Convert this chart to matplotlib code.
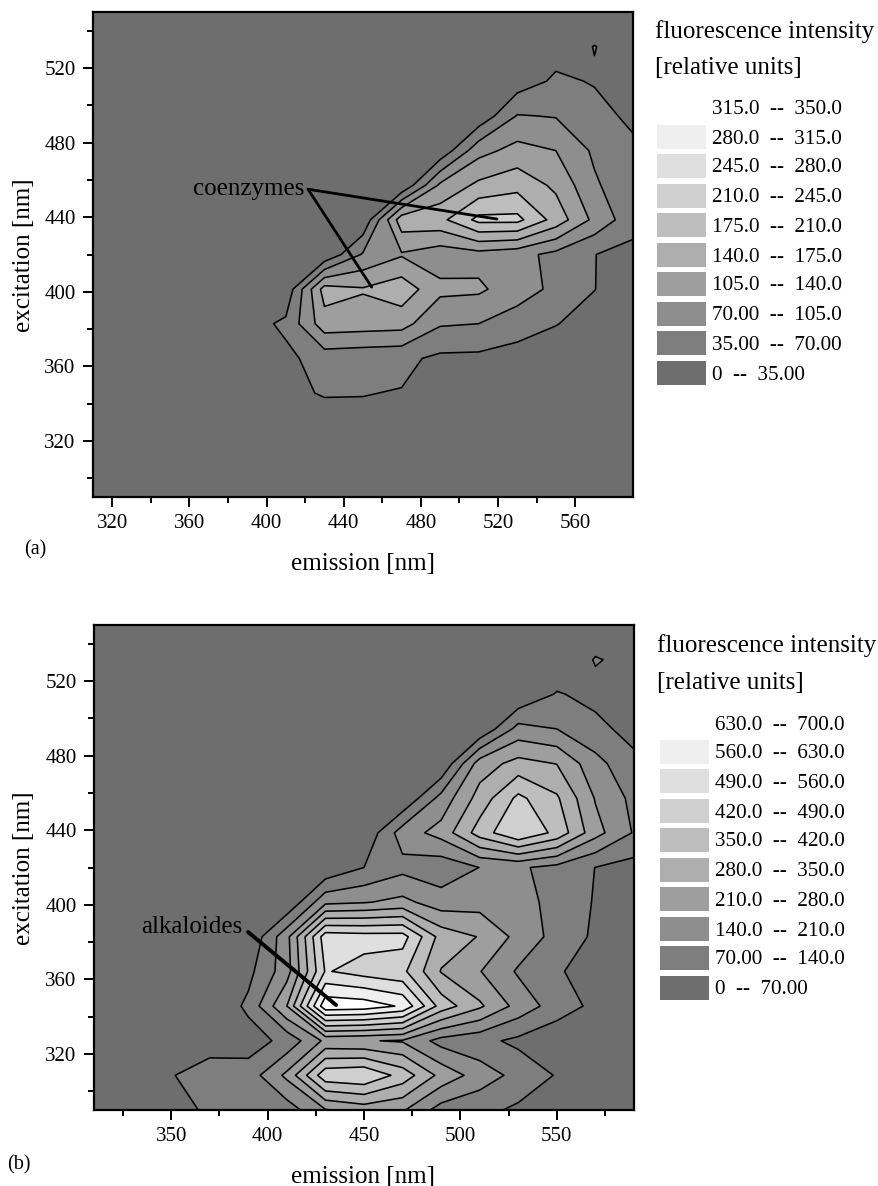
import matplotlib
matplotlib.use("Agg")
import numpy as np
import matplotlib.pyplot as plt
from matplotlib.patches import Rectangle

plt.rcParams['font.family'] = ['Liberation Serif', 'DejaVu Serif']

EMISSION = [310, 330, 350, 370, 390, 410, 430, 450, 470, 490, 510, 530, 550, 570, 590]
EXCITATION = [290, 308.6, 327.1, 345.7, 364.3, 382.9, 401.4, 420, 438.6, 457.1, 475.7, 494.3, 512.9, 531.4, 550]

INTENSITY_A = [
    [10, 10, 10, 10, 10, 10, 10, 10, 10, 10, 10, 10, 10, 10, 10],
    [10, 10, 10, 10, 10, 10, 10, 10, 10, 10, 10, 10, 10, 10, 10],
    [10, 10, 10, 10, 10, 22, 28, 26, 20, 14, 12, 12, 10, 10, 10],
    [10, 10, 10, 12, 14, 32, 36, 36, 33.5, 18, 15, 12, 12, 10, 10],
    [10, 10, 10, 12, 15, 27, 50, 46, 43, 28, 27, 19, 20, 15, 12],
    [10, 10, 10, 12, 20, 42, 125, 122, 119, 73.5, 70, 53, 36, 25, 15],
    [10, 10, 10, 8, 6, 8, 155, 143, 161, 114, 111, 86, 62, 35.5, 20],
    [10, 10, 10, 8, 6, 5, 5, 74, 101.5, 85, 92, 82, 60, 35.5, 25],
    [10, 10, 10, 8, 6, 5, 5, 5, 161, 165, 220, 220, 161, 96, 48],
    [10, 10, 10, 8, 6, 5, 5, 5, 2, 112, 148, 163, 133, 75, 45],
    [10, 10, 10, 8, 6, 5, 5, 5, 2, 8, 93, 117, 105, 64, 42],
    [10, 10, 10, 8, 6, 5, 5, 5, 5, 5, 9, 72, 68, 46, 28],
    [10, 10, 10, 10, 10, 10, 8, 8, 8, 8, 8, 16, 41, 32.7, 25],
    [10, 10, 10, 10, 10, 10, 10, 10, 10, 10, 10, 15, 20, 35.8, 22],
    [10, 10, 10, 10, 10, 10, 10, 10, 10, 10, 10, 12, 15, 15, 15],
]

INTENSITY_B = [
    [10, 10, 20, 91, 90, 104, 205, 240, 218, 110, 90, 57, 15, 10, 10],
    [10, 15, 64, 121, 102, 226, 469, 485, 392, 258, 177, 118, 65, 15, 10],
    [10, 10, 15, 20, 37, 91, 225, 215, 203, 114, 90, 54, 21, 15, 10],
    [10, 10, 10, 5, 85, 280, 680, 670, 620, 390, 292, 185, 105.6, 53, 20],
    [10, 10, 10, 15, 50, 180, 496, 460, 437, 276, 213, 131, 80, 30, 15],
    [10, 10, 10, 8, 5, 188, 530, 520, 519, 322, 276, 189, 115, 58, 20],
    [10, 10, 10, 8, 5, 5, 192, 205, 229, 173, 182, 160, 123, 64, 25],
    [10, 10, 10, 8, 5, 5, 10, 70, 118, 95, 141, 150, 118, 69, 44],
    [10, 10, 10, 8, 5, 5, 5, 10, 175, 236, 382, 488, 400, 235, 134],
    [10, 10, 10, 8, 5, 5, 5, 5, 4, 165, 308, 437, 360, 205, 121],
    [10, 10, 10, 8, 5, 5, 5, 5, 2, 2, 245, 304, 278, 163, 88],
    [10, 10, 10, 8, 5, 5, 5, 5, 5, 5, 5, 165, 140, 90, 45],
    [10, 10, 10, 8, 5, 5, 5, 5, 5, 5, 5, 3, 76, 49, 25],
    [10, 10, 10, 10, 10, 10, 10, 10, 10, 10, 10, 8, 5, 75, 50],
    [10, 10, 10, 10, 10, 10, 10, 10, 10, 10, 10, 10, 15, 20, 15],
]

LEVELS_A = [0, 35, 70, 105, 140, 175, 210, 245, 280, 315, 350]
LEVELS_B = [0, 70, 140, 210, 280, 350, 420, 490, 560, 630, 700]
GREYS = ['#6e6e6e', '#7e7e7e', '#8e8e8e', '#9e9e9e', '#aeaeae',
         '#bebebe', '#cfcfcf', '#dfdfdf', '#efefef', '#ffffff']
LEGEND_A = ['0  --  35.00', '35.00  --  70.00', '70.00  --  105.0', '105.0  --  140.0',
            '140.0  --  175.0', '175.0  --  210.0', '210.0  --  245.0', '245.0  --  280.0',
            '280.0  --  315.0', '315.0  --  350.0']
LEGEND_B = ['0  --  70.00', '70.00  --  140.0', '140.0  --  210.0', '210.0  --  280.0',
            '280.0  --  350.0', '350.0  --  420.0', '420.0  --  490.0', '490.0  --  560.0',
            '560.0  --  630.0', '630.0  --  700.0']

W, H = 879, 1186
fig = plt.figure(figsize=(W / 100, H / 100), dpi=100)
fig.patch.set_facecolor('white')


def fx(px):
    return px / W


def fy(py):
    return 1 - py / H


def panel(box, z, levels, xmajor, xminor, ymajor, yminor):
    left, top, right, bottom = box
    ax = fig.add_axes([fx(left), fy(bottom), (right - left) / W, (bottom - top) / H])
    ax.contourf(EMISSION, EXCITATION, np.array(z), levels=levels, colors=GREYS)
    ax.contour(EMISSION, EXCITATION, np.array(z), levels=levels[1:-1], colors='black', linewidths=1.15)
    ax.set_xlim(310, 590)
    ax.set_ylim(290, 550)
    ax.set_xticks(xmajor)
    ax.set_xticks(xminor, minor=True)
    ax.set_yticks(ymajor)
    ax.set_yticks(yminor, minor=True)
    ax.tick_params(which='major', length=7.5, width=1.4, labelsize=15, pad=5)
    ax.tick_params(which='minor', length=4, width=1.4)
    for s in ax.spines.values():
        s.set_linewidth(1.6)
    return ax


def side(title_x, title_ys, sw_x, centers, labels):
    fig.text(fx(title_x), fy(title_ys[0] + 2), 'fluorescence intensity', fontsize=18, va='center', ha='left')
    fig.text(fx(title_x), fy(title_ys[1] + 2), '[relative units]', fontsize=18, va='center', ha='left')
    for c, g, lab in zip(centers, GREYS, labels):
        fig.add_artist(Rectangle((fx(sw_x), fy(c + 12)), 49 / W, 24 / H, transform=fig.transFigure,
                                 facecolor=g, edgecolor='none'))
        fig.text(fx(sw_x + 55), fy(c + 2), lab, fontsize=15.2, va='center', ha='left')


ax_a = panel((93, 12, 633, 497), INTENSITY_A, LEVELS_A,
             [320, 360, 400, 440, 480, 520, 560], [340, 380, 420, 460, 500, 540],
             [320, 360, 400, 440, 480, 520], [300, 340, 380, 420, 460, 500, 540])
ax_b = panel((94, 625, 634, 1110), INTENSITY_B, LEVELS_B,
             [350, 400, 450, 500, 550], [325, 375, 425, 475, 525, 575],
             [320, 360, 400, 440, 480, 520], [300, 340, 380, 420, 460, 500, 540])

for start, end in [((421.5, 455), (519.5, 439)), ((421.5, 455), (454.5, 402.5))]:
    ax_a.annotate('', xy=end, xytext=start,
                  arrowprops=dict(arrowstyle='-', color='black', lw=2.0, shrinkA=0, shrinkB=0))
ax_a.text(419.5, 455, 'coenzymes', fontsize=18, ha='right', va='center')

ax_b.annotate('', xy=(435.5, 346.3), xytext=(389.9, 385.4),
              arrowprops=dict(arrowstyle='-', color='black', lw=2.8, shrinkA=0, shrinkB=0))
ax_b.text(387, 388, 'alkaloides', fontsize=18, ha='right', va='center')

side(655, (30, 66), 657, [373, 343, 314, 284, 255, 225, 196, 166, 137, 108], LEGEND_A)
side(657, (644, 681), 660, [988, 958, 929, 899, 870, 840, 811, 781, 752, 723], LEGEND_B)

fig.text(fx(363), fy(564), 'emission [nm]', fontsize=18, ha='center', va='center')
fig.text(fx(363), fy(1177), 'emission [nm]', fontsize=18, ha='center', va='center')
fig.text(fx(24), fy(255), 'excitation [nm]', fontsize=18, ha='center', va='center', rotation=90)
fig.text(fx(24), fy(868), 'excitation [nm]', fontsize=18, ha='center', va='center', rotation=90)
fig.text(fx(24), fy(550), '(a)', fontsize=14.5, ha='left', va='center')
fig.text(fx(7), fy(1165), '(b)', fontsize=14.5, ha='left', va='center')

fig.savefig('out.png', dpi=100)
